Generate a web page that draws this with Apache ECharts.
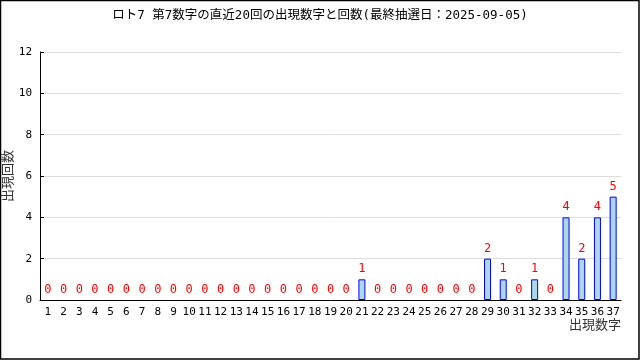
<!DOCTYPE html>
<html>
<head>
<meta charset="utf-8">
<script src="https://cdn.jsdelivr.net/npm/echarts@6/dist/echarts.min.js"></script>
<style>
  html, body { margin: 0; padding: 0; background: #fff; }
  #chart { width: 640px; height: 360px; }
</style>
</head>
<body>
<div id="chart"></div>
<script>
// numbers 1..37 and how often each came out as the 7th number
const numbers = ['1','2','3','4','5','6','7','8','9','10','11','12','13','14','15','16','17','18','19',
  '20','21','22','23','24','25','26','27','28','29','30','31','32','33','34','35','36','37'];
const counts = [0,0,0,0,0,0,0,0,0,0,0,0,0,0,0,0,0,0,0,0,1,0,0,0,0,0,0,0,2,1,0,1,0,4,2,4,5];
const yTicks = [0, 2, 4, 6, 8, 10, 12];

const mono = '"DejaVu Sans Mono", "Noto Sans CJK JP", monospace';
const chart = echarts.init(document.getElementById('chart'));

// zero counts: no bar outline, only the red "0" label
const barData = counts.map(v => v === 0
  ? { value: v, itemStyle: { borderWidth: 0, color: 'transparent' } }
  : v);

chart.setOption({
  animation: false,
  title: {
    text: 'ロト7 第7数字の直近20回の出現数字と回数(最終抽選日：2025-09-05)',
    left: 'center',
    top: 4,
    textStyle: { fontFamily: mono, fontSize: 12.5, fontWeight: 'normal', color: '#000' }
  },
  graphic: [{
    type: 'rect',
    shape: { x: 0.5, y: 0.5, width: 638.5, height: 358.5 },
    style: { fill: 'none', stroke: '#000', lineWidth: 1.5 },
    silent: true
  }],
  grid: { left: 40, right: 19, top: 52, bottom: 60, containLabel: false, outerBoundsMode: 'none' },
  xAxis: {
    type: 'category',
    data: numbers,
    name: '出現数字',
    nameLocation: 'end',
    nameGap: 0,
    nameMoveOverlap: false,
    nameTextStyle: {
      fontFamily: '"Noto Sans CJK JP"', fontSize: 13, color: '#333',
      align: 'right', verticalAlign: 'top', padding: [18, 0, 0, 0]
    },
    axisLine: { lineStyle: { color: '#000', width: 1 } },
    axisTick: { inside: true, length: 5, lineStyle: { color: '#000' } },
    axisLabel: { interval: 0, margin: 7, fontFamily: mono, fontSize: 11, color: '#000' },
    splitLine: { show: false }
  },
  yAxis: {
    type: 'value',
    min: yTicks[0],
    max: yTicks[yTicks.length - 1],
    interval: 2,
    name: '出現回数',
    nameLocation: 'middle',
    nameGap: 26,
    nameMoveOverlap: false,
    nameTextStyle: { fontFamily: '"Noto Sans CJK JP"', fontSize: 13, color: '#333' },
    axisLine: { show: true, lineStyle: { color: '#000', width: 1 } },
    axisTick: { show: true, inside: true, length: 4, lineStyle: { color: '#000' } },
    axisLabel: { margin: 8, fontFamily: mono, fontSize: 11, color: '#000' },
    splitLine: { show: true, lineStyle: { color: '#ddd' } }
  },
  series: [{
    type: 'bar',
    data: barData,
    barWidth: 7,
    itemStyle: { color: '#add8e6', borderColor: '#0000ff', borderWidth: 1 },
    label: {
      show: true,
      position: 'top',
      distance: 4,
      fontFamily: mono,
      fontSize: 12,
      color: '#ff0000'
    }
  }]
});
</script>
</body>
</html>
